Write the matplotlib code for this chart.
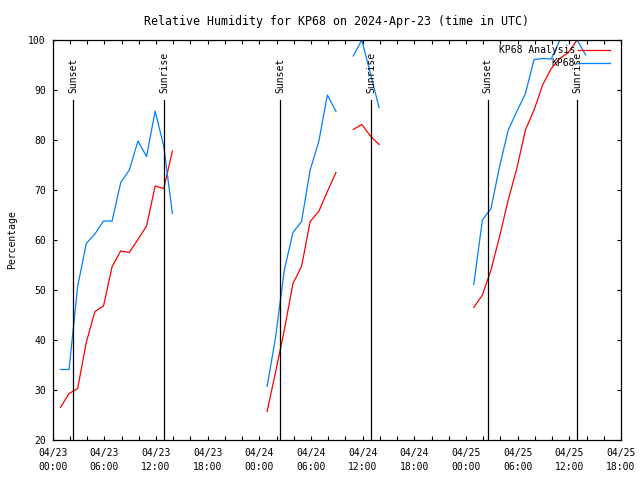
import numpy as np
import matplotlib
matplotlib.use('Agg')
import matplotlib.pyplot as plt

# hours since 2024-04-23 00:00 UTC
hours = list(range(1, 63))

kp68_rh = [34.1, 34.1, 50.7, 59.3, 61.2, 63.8, 63.8, 71.5, 74.0, 79.8, 76.7, 85.8, 78.7, 65.3,
           None, None, None, None, None, None, None, None, None, None,
           30.7, 40.7, 54.0, 61.5, 63.7, 74.0, 79.7, 89.0, 85.7,
           None,
           96.8, 100.0, 93.3, 86.5,
           None, None, None, None, None, None, None, None, None, None,
           51.1, 64.0, 66.3, 74.7, 82.0, 85.7, 89.3, 96.1, 96.3, 96.2, 100.0, 100.0, 100.0, 97.0]

analysis_rh = [26.5, 29.3, 30.3, 39.5, 45.7, 46.8, 54.7, 57.8, 57.5, 60.1, 62.8, 70.8, 70.3, 77.8,
               None, None, None, None, None, None, None, None, None, None,
               25.7, 33.7, 42.0, 51.3, 54.7, 63.7, 65.7, 69.7, 73.5,
               None,
               82.1, 83.1, 80.8, 79.1,
               None, None, None, None, None, None, None, None, None, None,
               46.5, 49.0, 54.0, 60.7, 68.0, 74.3, 82.0, 86.0, 91.0, 94.3, 96.3, 97.5, 100.0, None]

sunset_hours = [2.39, 26.40, 50.52]
sunrise_hours = [12.96, 37.00, 60.92]

tick_hours = [0, 6, 12, 18, 24, 30, 36, 42, 48, 54, 60, 66]
tick_labels = ["04/23\n00:00", "04/23\n06:00", "04/23\n12:00", "04/23\n18:00",
               "04/24\n00:00", "04/24\n06:00", "04/24\n12:00", "04/24\n18:00",
               "04/25\n00:00", "04/25\n06:00", "04/25\n12:00", "04/25\n18:00"]

plt.rcParams['font.family'] = 'DejaVu Sans Mono'
plt.rcParams['font.size'] = 7

fig = plt.figure(figsize=(6.4, 4.8), dpi=100)
ax = fig.add_axes([52.7 / 640, 1 - 440 / 480, (621 - 52.7) / 640, 400 / 480])

t = np.array(hours, dtype=float) - 0.1
blue = np.array([np.nan if v is None else v for v in kp68_rh])
red = np.array([np.nan if v is None else v for v in analysis_rh])

ax.plot(t, red, color='#ff0000', lw=0.9, label='KP68 Analysis')
ax.plot(t, blue, color='#0080ff', lw=0.9, label='KP68')

for h in sunset_hours:
    ax.plot([h, h], [20, 88], color='black', lw=0.9)
    ax.text(h, 89.3, 'Sunset', rotation=90, ha='center', va='bottom')
for h in sunrise_hours:
    ax.plot([h, h], [20, 88], color='black', lw=0.9)
    ax.text(h, 89.3, 'Sunrise', rotation=90, ha='center', va='bottom')

ax.set_xlim(0, 66)
ax.set_ylim(20, 100)
ax.set_xticks(tick_hours)
ax.set_xticklabels(tick_labels, linespacing=1.4)
ax.set_xticks(range(0, 67, 2), minor=True)
ax.set_yticks(range(20, 101, 10))
ax.tick_params(which='both', direction='in', length=3, width=0.8, top=True, right=True)
ax.tick_params(axis='x', pad=6)
ax.tick_params(axis='y', pad=5)
for s in ax.spines.values():
    s.set_linewidth(0.9)

ax.set_ylabel('Percentage', labelpad=8)
ax.set_title('Relative Humidity for KP68 on 2024-Apr-23 (time in UTC)', pad=11)

ax.legend(loc='upper right', bbox_to_anchor=(1 - 11 / 568, 1 - 5 / 400), frameon=False,
          markerfirst=False, borderpad=0, borderaxespad=0, handlelength=3.3,
          handletextpad=0.3, labelspacing=0.3)

fig.savefig('out.png', dpi=100)
